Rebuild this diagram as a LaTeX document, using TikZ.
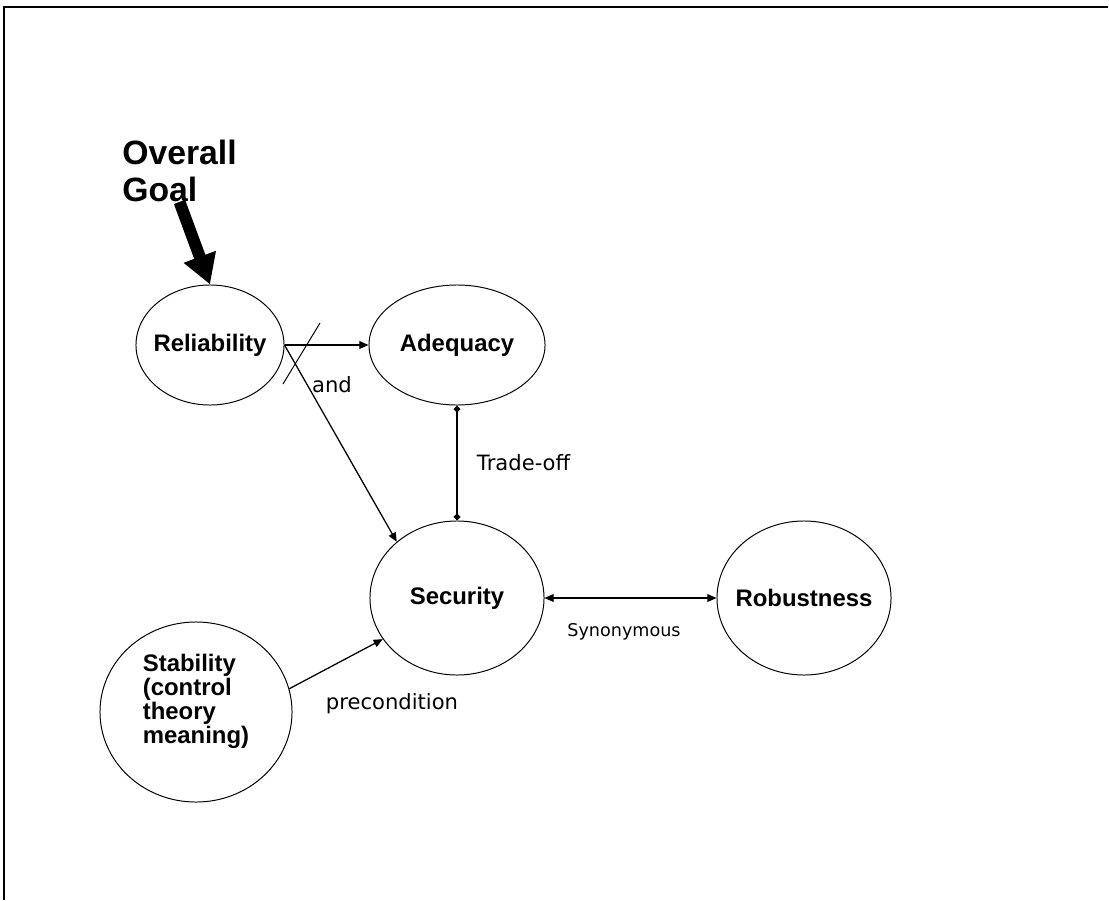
\documentclass[tikz,border=0pt]{standalone}
\usepackage{fontspec}
\setmainfont{Liberation Sans}
\newfontfamily\notefont{DejaVu Sans}
\usetikzlibrary{shapes.geometric,arrows.meta}

\begin{document}
\begin{tikzpicture}[x=0.025cm,y=-0.025cm,
        bubble/.style={ellipse,draw,line width=0.7pt,inner sep=-12pt,font=\fontsize{17}{17}\selectfont\bfseries},
        note/.style={font=\fontsize{15}{18}\selectfont\notefont},
        link/.style={line width=0.9pt,-{Triangle[length=6.5pt,width=5.5pt]}}]
        \useasboundingbox (0,0) rectangle (1109,900);

        % рамка
        \draw[line width=1.4pt] (4,900) -- (4,7) -- (1108,7);

        \node[bubble,minimum width=3.7cm,minimum height=3cm] (Rel) at (210,345) {Reliability};
        \node[bubble,minimum width=4.4cm,minimum height=3cm] (Ade) at (457,345) {Adequacy};
        \node[bubble,minimum width=4.35cm,minimum height=3.85cm] (Sec) at (457,598) {Security};
        \node[bubble,minimum width=4.35cm,minimum height=3.85cm] (Rob) at (804,598) {Robustness};
        \node[bubble,minimum width=4.8cm,minimum height=4.5cm,align=left] (Sta) at (196,712)
            {Stability\\(control\\theory\\meaning)\rule[-19pt]{0pt}{0pt}};

        \node[font=\fontsize{24}{26}\selectfont\bfseries,align=left,inner sep=0pt,anchor=north west] (Goal) at (122,140) {Overall\\Goal};
        \draw[line width=8.5pt,-{Triangle[length=21pt,width=23pt]}] (Goal.south) -- (Rel.north);

        \draw[link] (Rel.east) -- (Ade.west);
        \draw[link] (Rel.east) -- (Sec.137);
        \draw[link] (Sta.14) -- (Sec.209);
        \draw[line width=0.9pt,{Triangle[length=6.5pt,width=5.5pt]}-{Triangle[length=6.5pt,width=5.5pt]}] (Sec.east) -- (Rob.west);
        \draw[line width=0.9pt,{Diamond[length=5pt,width=5pt]}-{Diamond[length=5pt,width=5pt]}] (Ade.south) -- (Sec.north);

        % перекреслення
        \coordinate (P) at (320,323);
        \coordinate (Q) at (283,384);
        \draw[line width=0.7pt] (P) -- (Q);

        \node[note] (And) at (332,385) {and};
        \node[note,anchor=west] (Trade) at (472,463) {Trade-off};
        \node[note,font=\fontsize{12.5}{15}\selectfont\notefont] (Syn) at (624,632) {Synonymous};
        \node[note] (Pre) at (392,704) {precondition};
    \end{tikzpicture}
\end{document}
